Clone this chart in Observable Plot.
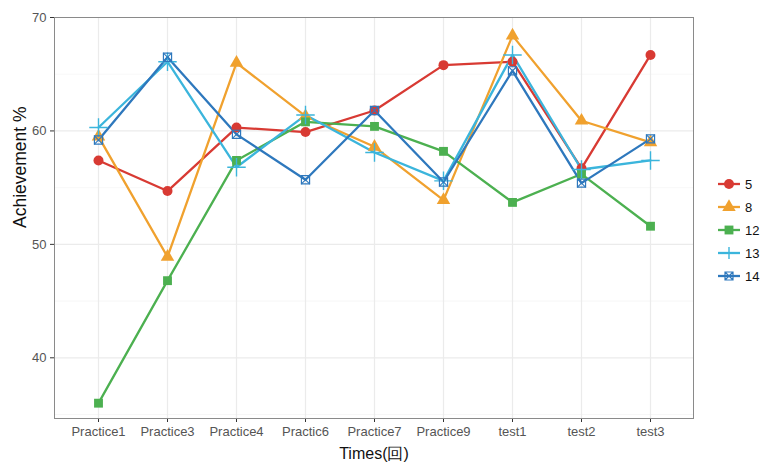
<!DOCTYPE html>
<html><head><meta charset="utf-8">
<script src="https://cdn.jsdelivr.net/npm/d3@7"></script>
<script src="https://cdn.jsdelivr.net/npm/@observablehq/plot@0.6"></script>
<style>
body{margin:0;background:#fff;font-family:"Liberation Sans",Arial,sans-serif;}
#wrap{position:relative;width:763px;height:465px;}
#legend{position:absolute;left:0;top:0;}
</style></head><body><div id="wrap"><div id="chart"></div><div id="legend"></div></div>
<script>
const times = ["Practice1","Practice3","Practice4","Practic6","Practice7","Practice9","test1","test2","test3"];
const groups = ["5","8","12","13","14"];
const s5  = [57.4,54.7,60.3,59.9,61.8,65.8,66.1,56.7,66.7];
const s8  = [59.5,48.9,66.0,61.3,58.6,53.9,68.4,60.9,59.0];
const s12 = [36.0,46.8,57.4,60.8,60.4,58.2,53.7,56.2,51.6];
const s13 = [60.3,66.1,56.8,61.4,58.1,55.6,66.7,56.6,57.4];
const s14 = [59.2,66.5,59.7,55.7,61.8,55.5,65.3,55.4,59.3];
const yTicks = [40,50,60,70];
const yMinor = [35,45,55,65];
const colors = ["#d83a33","#f0a12e","#4cb050","#3bb5dc","#2e78bd"];
const xTitle = "Times(回)";
const yTitle = "Achievement %";

const seriesList = [s5,s8,s12,s13,s14];
const data = [];
groups.forEach((g,gi)=>times.forEach((t,ti)=>data.push({time:t, group:g, value:seriesList[gi][ti]})));
const colorOf = g => colors[groups.indexOf(g)];
const font = '"Liberation Sans",Arial,sans-serif';

const plot = Plot.plot({
  width: 763, height: 465,
  marginLeft: 54, marginRight: 70, marginTop: 17, marginBottom: 47,
  style: {fontFamily: font, fontSize: "13px", background: "#fff"},
  x: {type: "point", domain: times, padding: 0.6, label: null},
  y: {domain: [34.65, 70], label: null},
  color: {domain: groups, range: colors},
  symbol: {domain: groups, range: ["circle","triangle","square","plus","square"]},
  marks: [
    Plot.gridY(yMinor, {stroke: "#f4f4f4", strokeOpacity: 1, strokeWidth: 0.7}),
    Plot.gridY(yTicks, {stroke: "#ebebeb", strokeOpacity: 1, strokeWidth: 1.2}),
    Plot.gridX(times, {stroke: "#ebebeb", strokeOpacity: 1, strokeWidth: 1.2}),
    Plot.axisX({ticks: times, tickSize: 4, tickPadding: 4, color: "#555", stroke: "#333", label: null, fontSize: 13}),
    Plot.axisY({ticks: yTicks, tickSize: 4, tickPadding: 4, color: "#555", stroke: "#333", label: null, fontSize: 13}),
    Plot.line(data, {x: "time", y: "value", z: "group", stroke: "group", strokeWidth: 2.3}),
    Plot.dot(data.filter(d => ["5","8","12"].includes(d.group)), {x: "time", y: "value", symbol: "group", fill: "group", r: 5}),
    Plot.dot(data.filter(d => d.group === "13"), {x: "time", y: "value", symbol: "plus", stroke: "group", r: 6, strokeWidth: 1.4}),
    Plot.dot(data.filter(d => d.group === "14"), {x: "time", y: "value", symbol: "square", stroke: "group", fill: "none", r: 4.6, strokeWidth: 1.2}),
    Plot.dot(data.filter(d => d.group === "14"), {x: "time", y: "value", symbol: "times", stroke: "group", r: 4.0, strokeWidth: 1.1}),
    Plot.frame({stroke: "#8a8a8a", strokeWidth: 1}),
    Plot.text([xTitle], {frameAnchor: "bottom", dy: 35, fontSize: 16, fill: "#111", lineAnchor: "middle"}),
    Plot.text([yTitle], {frameAnchor: "left", dx: -34, dy: 10, rotate: -90, fontSize: 17.5, fill: "#111"})
  ]
});
document.getElementById("chart").appendChild(plot);

// legend
const lg = d3.select("#legend").append("svg").attr("width", 763).attr("height", 465)
  .style("position","absolute").style("left","0").style("top","0");
const symbolTypes = {"5": d3.symbolCircle, "8": d3.symbolTriangle, "12": d3.symbolSquare};
groups.forEach((g, i) => {
  const y = 184 + i * 23;
  const c = colorOf(g);
  const item = lg.append("g");
  item.append("line").attr("x1", 718).attr("x2", 740).attr("y1", y).attr("y2", y).attr("stroke", c).attr("stroke-width", 2.3);
  if (symbolTypes[g]) {
    item.append("path").attr("d", d3.symbol(symbolTypes[g], Math.PI * 25)()).attr("transform", `translate(729,${y})`).attr("fill", c);
  } else if (g === "13") {
    item.append("path").attr("d", "M-6,0H6M0,-6V6").attr("transform", `translate(729,${y})`).attr("stroke", c).attr("stroke-width", 1.4);
  } else {
    item.append("path").attr("d", "M-4,-4H4V4H-4Z M-3.5,-3.5L3.5,3.5M-3.5,3.5L3.5,-3.5").attr("transform", `translate(729,${y})`).attr("stroke", c).attr("fill", "none").attr("stroke-width", 1.2);
  }
  item.append("text").attr("x", 745).attr("y", y).attr("dy", "0.35em").attr("font-size", 13).attr("font-family", font).attr("fill", "#111").text(g);
});
</script></body></html>
